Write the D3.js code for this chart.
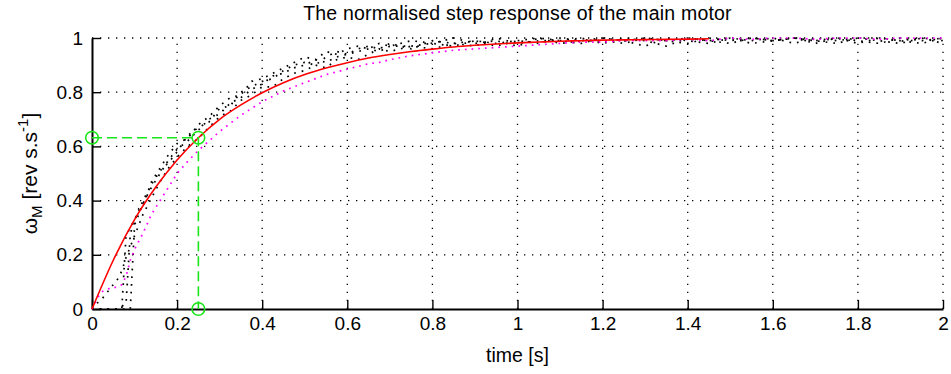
<!DOCTYPE html>
<html>
<head>
<meta charset="utf-8">
<script src="https://cdn.jsdelivr.net/npm/d3@7/dist/d3.min.js"></script>
<style>
  html, body { margin: 0; padding: 0; background: #fff; }
  svg { display: block; }
  text { font-family: "Liberation Sans", Arial, Helvetica, sans-serif; fill: #000; }
</style>
</head>
<body>
<svg id="chart" width="951" height="374"></svg>
<script>
// Sample instants of the logged runs [s]
const time = [
  0, 0.01, 0.02, 0.03, 0.04, 0.05, 0.06, 0.07, 0.08, 0.09, 0.10, 0.11, 0.12,
  0.14, 0.16, 0.18, 0.20,
  0.225, 0.25, 0.275, 0.30, 0.325, 0.35, 0.375, 0.40, 0.425, 0.45, 0.475, 0.50,
  0.525, 0.55, 0.575, 0.60, 0.625, 0.65, 0.675, 0.70,
  0.75, 0.80, 0.85, 0.90, 0.95, 1.00, 1.05, 1.10, 1.15, 1.20, 1.25, 1.30, 1.35,
  1.40, 1.45, 1.50, 1.55, 1.60, 1.65, 1.70, 1.75, 1.80, 1.85, 1.90, 1.95, 2.00
];

// Measured normalised speed, four runs (black dotted)
const run1 = [
  0, 0, 0, 0, 0, 0, 0, 0, 0, 0, 0.31, 0.35, 0.39,
  0.45, 0.50, 0.55, 0.59,
  0.62, 0.66, 0.70, 0.72, 0.76, 0.78, 0.81, 0.83, 0.86, 0.87, 0.89, 0.90,
  0.92, 0.91, 0.93, 0.94, 0.95, 0.96, 0.95, 0.97,
  0.97, 0.98, 0.97, 0.99, 0.98, 0.99, 1.00, 0.98, 0.99, 1.00, 0.99, 0.97, 1.00,
  0.99, 0.98, 1.00, 0.99, 1.00, 0.98, 1.00, 0.99, 1.00, 0.99, 0.98, 1.00, 0.99
];
const run2 = [
  0, 0, 0, 0, 0, 0, 0, 0, 0.27, 0.30, 0.33, 0.36, 0.40,
  0.46, 0.51, 0.54, 0.58,
  0.64, 0.67, 0.69, 0.74, 0.75, 0.80, 0.82, 0.84, 0.85, 0.88, 0.90, 0.91,
  0.90, 0.93, 0.95, 0.94, 0.96, 0.97, 0.96, 0.98,
  0.96, 0.99, 0.98, 0.97, 1.00, 0.98, 0.99, 0.99, 1.00, 0.98, 1.00, 0.99, 0.97,
  1.00, 0.99, 1.00, 0.98, 0.99, 1.00, 0.99, 1.00, 0.98, 1.00, 0.99, 1.00, 0.98
];
const run3 = [
  0, 0.02, 0.03, 0.05, 0.07, 0.09, 0.11, 0.14, 0.19, 0.23, 0.27, 0.31, 0.35,
  0.41, 0.47, 0.52, 0.56,
  0.60, 0.63, 0.67, 0.71, 0.73, 0.77, 0.79, 0.82, 0.82, 0.85, 0.87, 0.88,
  0.90, 0.89, 0.92, 0.93, 0.92, 0.94, 0.96, 0.95,
  0.97, 0.96, 0.98, 0.99, 0.97, 0.99, 0.98, 1.00, 0.99, 0.99, 0.98, 1.00, 0.99,
  1.00, 0.99, 0.98, 1.00, 0.99, 1.00, 0.99, 0.98, 1.00, 1.00, 0.99, 0.98, 1.00
];
const run4 = [
  0, 0, 0, 0, 0, 0, 0, 0.01, 0.02, 0.28, 0.32, 0.37, 0.38,
  0.47, 0.52, 0.57, 0.61,
  0.63, 0.68, 0.71, 0.75, 0.78, 0.79, 0.84, 0.85, 0.87, 0.89, 0.91, 0.93,
  0.92, 0.95, 0.94, 0.96, 0.97, 0.96, 0.98, 0.97,
  0.99, 0.98, 1.00, 0.98, 0.99, 0.97, 1.00, 0.99, 0.98, 1.00, 0.99, 1.00, 0.99,
  0.98, 1.00, 0.99, 1.00, 0.99, 1.00, 0.98, 1.00, 0.99, 0.98, 1.00, 0.99, 1.00
];

// Averaged / simulated response (magenta dotted)
const meanRun = [
  0, 0.03, 0.06, 0.07, 0.075, 0.08, 0.08, 0.09, 0.12, 0.18, 0.22, 0.25, 0.28,
  0.35, 0.40, 0.45, 0.50,
  0.545, 0.585, 0.62, 0.655, 0.685, 0.715, 0.74, 0.765, 0.785, 0.805, 0.82, 0.835,
  0.85, 0.865, 0.875, 0.885, 0.895, 0.905, 0.91, 0.92,
  0.935, 0.945, 0.955, 0.96, 0.965, 0.97, 0.975, 0.98, 0.985, 0.985, 0.99, 0.99, 0.99,
  0.995, 0.99, 1.00, 0.995, 1.00, 1.00, 0.995, 1.00, 1.00, 0.995, 1.00, 1.00, 1.00
];

// First-order model response (red)
const modelTime = [
  0, 0.05, 0.10, 0.15, 0.20, 0.25, 0.30, 0.35, 0.40, 0.45, 0.50, 0.55, 0.60, 0.65, 0.70,
  0.75, 0.80, 0.85, 0.90, 0.95, 1.00, 1.05, 1.10, 1.15, 1.20, 1.25, 1.30, 1.35, 1.40, 1.45
];
const modelValue = [
  0, 0.18, 0.33, 0.45, 0.55, 0.632, 0.70, 0.753, 0.798, 0.835, 0.865, 0.889, 0.909, 0.926, 0.939,
  0.95, 0.959, 0.967, 0.973, 0.978, 0.982, 0.985, 0.988, 0.99, 0.992, 0.993, 0.994, 0.995, 0.996, 0.997
];

// Time constant construction (green): tau and 63.2 % level
const markerTime = [0, 0.25, 0.25];
const markerValue = [0.632, 0.632, 0];

const xTicks = [0, 0.2, 0.4, 0.6, 0.8, 1, 1.2, 1.4, 1.6, 1.8, 2];
const yTicks = [0, 0.2, 0.4, 0.6, 0.8, 1];

const titleText = "The normalised step response of the main motor";
const xLabelText = "time [s]";

// ---- layout ----
const margin = { left: 92, right: 8, top: 38, bottom: 65 };
const W = 951, H = 374;
const svg = d3.select("#chart");

const x = d3.scaleLinear().domain([0, 2]).range([margin.left, W - margin.right]);
const y = d3.scaleLinear().domain([0, 1]).range([H - margin.bottom, margin.top]);

// dotted grid
const grid = svg.append("g").attr("stroke", "#000").attr("stroke-width", 1.3)
  .attr("stroke-dasharray", "1.3,6.7").attr("fill", "none");
grid.selectAll("line.v").data(xTicks.slice(1)).join("line")
  .attr("x1", d => x(d)).attr("x2", d => x(d))
  .attr("y1", y(0)).attr("y2", y(1));
grid.selectAll("line.h").data(yTicks.slice(1)).join("line")
  .attr("x1", x(0)).attr("x2", x(2))
  .attr("y1", d => y(d)).attr("y2", d => y(d));

// axes
const xAxis = d3.axisBottom(x).tickValues(xTicks).tickFormat(d3.format("~g"))
  .tickSizeInner(-9).tickSizeOuter(0).tickPadding(8);
const yAxis = d3.axisLeft(y).tickValues(yTicks).tickFormat(d3.format("~g"))
  .tickSizeInner(-9).tickSizeOuter(0).tickPadding(9);

const gx = svg.append("g").attr("transform", `translate(0,${y(0)})`).call(xAxis);
const gy = svg.append("g").attr("transform", `translate(${x(0)},0)`).call(yAxis);
[gx, gy].forEach(g => {
  g.select(".domain").attr("stroke", "#000").attr("stroke-width", 2);
  g.selectAll(".tick line").attr("stroke", "#000").attr("stroke-width", 1.4);
  g.selectAll(".tick text").attr("font-size", 19).attr("font-family", "Liberation Sans, Arial, sans-serif").attr("fill", "#000");
});

// data lines
const line = d3.line().x((d, i) => x(time[i])).y(d => y(d));
const runs = [run1, run2, run3, run4];
svg.append("g").selectAll("path").data(runs).join("path")
  .attr("d", line)
  .attr("fill", "none").attr("stroke", "#000").attr("stroke-width", 1.7)
  .attr("stroke-dasharray", "1.7,6");

svg.append("path").datum(meanRun).attr("d", line)
  .attr("fill", "none").attr("stroke", "#ff00ff").attr("stroke-width", 1.7)
  .attr("stroke-dasharray", "1.7,5");

const modelLine = d3.line().curve(d3.curveMonotoneX)
  .x((d, i) => x(modelTime[i])).y(d => y(d));
svg.append("path").datum(modelValue).attr("d", modelLine)
  .attr("fill", "none").attr("stroke", "#ff0000").attr("stroke-width", 1.6);

// time constant construction
const green = "#19e619";
const mk = markerTime.map((t, i) => [t, markerValue[i]]);
svg.append("path").datum(mk)
  .attr("d", d3.line().x(d => x(d[0])).y(d => y(d[1])))
  .attr("fill", "none").attr("stroke", green).attr("stroke-width", 1.6)
  .attr("stroke-dasharray", "10,5");
svg.append("g").selectAll("circle").data(mk).join("circle")
  .attr("cx", d => x(d[0])).attr("cy", d => y(d[1])).attr("r", 6.3)
  .attr("fill", "none").attr("stroke", green).attr("stroke-width", 1.6);

// labels
svg.append("text").attr("x", (x(0) + x(2)) / 2).attr("y", 20)
  .attr("text-anchor", "middle").attr("font-size", 19.5).attr("letter-spacing", 0.2)
  .text(titleText);
svg.append("text").attr("x", (x(0) + x(2)) / 2).attr("y", 362)
  .attr("text-anchor", "middle").attr("font-size", 19.5)
  .text(xLabelText);

const yl = svg.append("text")
  .attr("transform", `translate(37,${(y(0) + y(1)) / 2}) rotate(-90)`)
  .attr("text-anchor", "middle").attr("font-size", 21);
yl.append("tspan").text("ω");
yl.append("tspan").attr("dy", 5).attr("font-size", 15).text("M");
yl.append("tspan").attr("dy", -5).text(" [rev s.s");
yl.append("tspan").attr("dy", -9).attr("font-size", 15).text("-1");
yl.append("tspan").attr("dy", 9).text("]");
</script>
</body>
</html>
